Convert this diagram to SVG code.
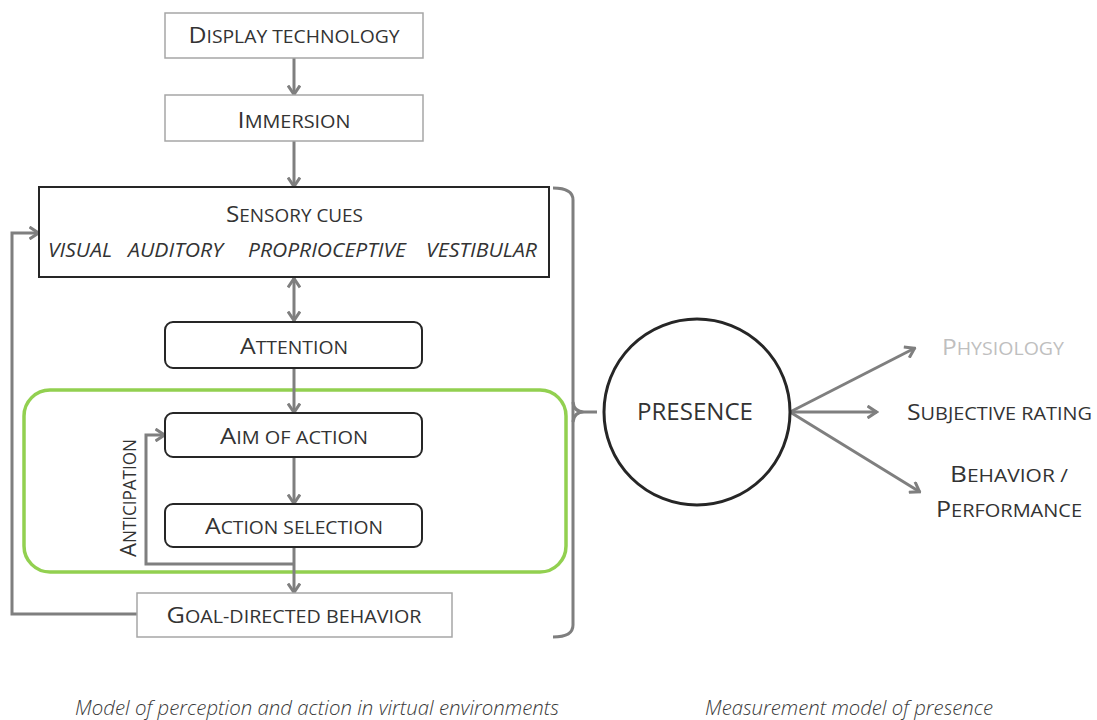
<svg xmlns="http://www.w3.org/2000/svg" width="1097" height="720" viewBox="0 0 1097 720">
<style>
text{font-family:"Open Sans","Liberation Sans",sans-serif;fill:#333;font-size:17.5px}
.b{font-size:22.5px}
.it{font-style:italic;font-size:20px}
.cap{font-style:italic;font-weight:300;font-size:20px;fill:#3a3a3a}
.lbox{fill:#fff;stroke:#a6a6a6;stroke-width:1.5}
.dbox{fill:#fff;stroke:#262626;stroke-width:2}
.con{fill:none;stroke:#7f7f7f;stroke-width:3}
.grn{fill:none;stroke:#92d050;stroke-width:3.5}
</style>
<defs>
<marker id="ah" viewBox="0 0 12 14" refX="10.5" refY="7" markerWidth="12" markerHeight="14" markerUnits="userSpaceOnUse" orient="auto-start-reverse">
<path d="M1,1 L10,7 L1,13" fill="none" stroke="#7f7f7f" stroke-width="3"/>
</marker>
</defs>
<rect x="0" y="0" width="1097" height="720" fill="#fff"/>

<g id="green-frame">
<rect class="grn" x="24" y="390" width="542" height="182" rx="26"/>
</g>

<g id="connectors">
<line class="con" x1="294" y1="58" x2="294" y2="95" marker-end="url(#ah)"/>
<line class="con" x1="294" y1="141" x2="294" y2="187" marker-end="url(#ah)"/>
<line class="con" x1="294" y1="278" x2="294" y2="321" marker-start="url(#ah)" marker-end="url(#ah)"/>
<line class="con" x1="294" y1="368" x2="294" y2="413" marker-end="url(#ah)"/>
<line class="con" x1="294" y1="457" x2="294" y2="504" marker-end="url(#ah)"/>
<line class="con" x1="294" y1="547" x2="294" y2="593" marker-end="url(#ah)"/>
<polyline class="con" points="294,564 146,564 146,435 165,435" marker-end="url(#ah)"/>
<polyline class="con" points="137,614 12,614 12,233 39,233" marker-end="url(#ah)"/>
<path class="con" d="M553,188 Q573,188 573,200 V625 Q573,637 553,637"/>
<path class="con" d="M573,402 Q574,412 584,412 L597,412 M573,422 Q574,412 584,412"/>
<line class="con" x1="790" y1="412" x2="915" y2="348" marker-end="url(#ah)"/>
<line class="con" x1="790" y1="412" x2="877" y2="412" marker-end="url(#ah)"/>
<line class="con" x1="790" y1="412" x2="920" y2="492" marker-end="url(#ah)"/>
</g>

<g id="display-technology">
<rect class="lbox" x="165" y="13" width="258" height="45"/>
<text x="294" y="43" text-anchor="middle" textLength="211" lengthAdjust="spacingAndGlyphs"><tspan class="b">D</tspan>ISPLAY TECHNOLOGY</text>
</g>
<g id="immersion">
<rect class="lbox" x="165" y="95" width="258" height="46"/>
<text x="294" y="128" text-anchor="middle" textLength="113" lengthAdjust="spacingAndGlyphs"><tspan class="b">I</tspan>MMERSION</text>
</g>
<g id="sensory-cues">
<rect class="dbox" x="39" y="187" width="510" height="90"/>
<text x="294.5" y="222" text-anchor="middle" textLength="137" lengthAdjust="spacingAndGlyphs"><tspan class="b">S</tspan>ENSORY CUES</text>
<text class="it" x="48" y="257" textLength="64" lengthAdjust="spacingAndGlyphs">VISUAL</text>
<text class="it" x="128" y="257" textLength="95" lengthAdjust="spacingAndGlyphs">AUDITORY</text>
<text class="it" x="248" y="257" textLength="158" lengthAdjust="spacingAndGlyphs">PROPRIOCEPTIVE</text>
<text class="it" x="426" y="257" textLength="111" lengthAdjust="spacingAndGlyphs">VESTIBULAR</text>
</g>
<g id="attention">
<rect class="dbox" x="165" y="322" width="257" height="46" rx="8"/>
<text x="294" y="354" text-anchor="middle" textLength="108" lengthAdjust="spacingAndGlyphs"><tspan class="b">A</tspan>TTENTION</text>
</g>
<g id="aim-of-action">
<rect class="dbox" x="165" y="413" width="257" height="44" rx="8"/>
<text x="294" y="444" text-anchor="middle" textLength="148" lengthAdjust="spacingAndGlyphs"><tspan class="b">A</tspan>IM OF ACTION</text>
</g>
<g id="action-selection">
<rect class="dbox" x="165" y="504" width="257" height="43" rx="8"/>
<text x="294" y="534" text-anchor="middle" textLength="178" lengthAdjust="spacingAndGlyphs"><tspan class="b">A</tspan>CTION SELECTION</text>
</g>
<g id="anticipation">
<text transform="translate(136,557) rotate(-90)" textLength="118" lengthAdjust="spacingAndGlyphs"><tspan class="b">A</tspan>NTICIPATION</text>
</g>
<g id="goal-directed-behavior">
<rect class="lbox" x="137" y="593" width="315" height="44"/>
<text x="294" y="623" text-anchor="middle" textLength="255" lengthAdjust="spacingAndGlyphs"><tspan class="b">G</tspan>OAL-DIRECTED BEHAVIOR</text>
</g>
<g id="presence">
<circle cx="697" cy="412" r="93" fill="#fff" stroke="#262626" stroke-width="3"/>
<text x="695" y="420" text-anchor="middle" style="font-size:23px" textLength="116" lengthAdjust="spacingAndGlyphs">PRESENCE</text>
</g>
<g id="physiology">
<text x="942" y="355" style="fill:#bfbfbf;font-size:18px" textLength="122" lengthAdjust="spacingAndGlyphs"><tspan class="b" style="fill:#bfbfbf">P</tspan>HYSIOLOGY</text>
</g>
<g id="subjective-rating">
<text x="907" y="420" style="font-size:18px" textLength="185" lengthAdjust="spacingAndGlyphs"><tspan class="b">S</tspan>UBJECTIVE RATING</text>
</g>
<g id="behavior-performance">
<text x="950" y="482" style="font-size:18px" textLength="118" lengthAdjust="spacingAndGlyphs"><tspan class="b">B</tspan>EHAVIOR /</text>
<text x="936" y="517" style="font-size:18px" textLength="146" lengthAdjust="spacingAndGlyphs"><tspan class="b">P</tspan>ERFORMANCE</text>
</g>
<g id="captions">
<text class="cap" x="75" y="715" textLength="484" lengthAdjust="spacingAndGlyphs">Model of perception and action in virtual environments</text>
<text class="cap" x="705" y="715" textLength="288" lengthAdjust="spacingAndGlyphs">Measurement model of presence</text>
</g>
</svg>
